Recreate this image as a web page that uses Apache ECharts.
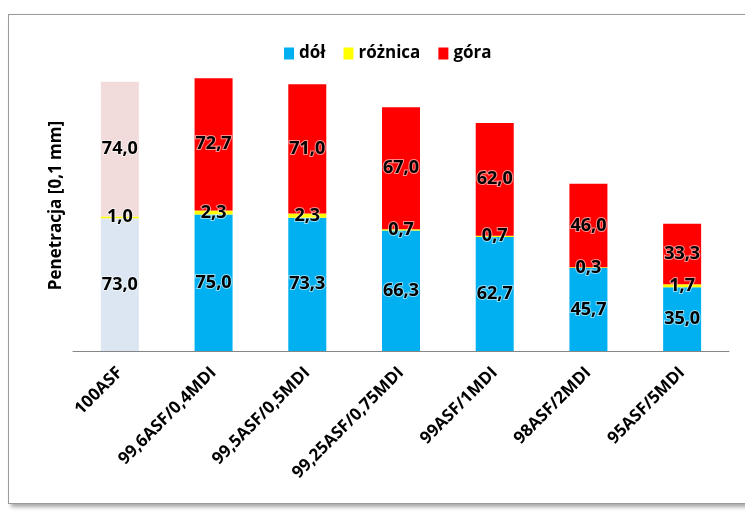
<!DOCTYPE html>
<html><head><meta charset="utf-8">
<script src="https://cdn.jsdelivr.net/npm/echarts@6/dist/echarts.min.js"></script>
<style>
html,body{margin:0;padding:0;background:#fff;}
#frame{position:absolute;left:8px;top:14px;width:760px;height:488px;border:1px solid #9a9a9a;box-shadow:3px 3px 4px rgba(0,0,0,0.35);background:#fff;}
#c{position:absolute;left:0;top:0;width:745px;height:512px;}
</style></head>
<body>
<div id="frame"></div>
<div id="c"></div>
<script>
const categories = ['100ASF','99,6ASF/0,4MDI','99,5ASF/0,5MDI','99,25ASF/0,75MDI','99ASF/1MDI','98ASF/2MDI','95ASF/5MDI'];
const dol = [73.0, 75.0, 73.3, 66.3, 62.7, 45.7, 35.0];
const roznica = [1.0, 2.3, 2.3, 0.7, 0.7, 0.3, 1.7];
const gora = [74.0, 72.7, 71.0, 67.0, 62.0, 46.0, 33.3];
const yAxisName = 'Penetracja [0,1 mm]';

const colors = {dol:'#00B0F0', roznica:'#FFFF00', gora:'#FF0000'};
const pale = {dol:'#DCE6F2', roznica:'#FFFF00', gora:'#F2DCDB'};
const FF = 'Open Sans, sans-serif';

const labelStyle = {
  show:true, position:'inside', fontFamily:FF, fontWeight:'bold', fontSize:18,
  color:'#000', textBorderColor:'rgba(255,255,255,0.55)', textBorderWidth:2,
  formatter: p => p.value.toFixed(1).replace('.', ',')
};
function mk(name, key, vals){
  return {
    name, type:'bar', stack:'s', barWidth:38,
    data: vals.map((v,i)=> i===0 ? {value:v, itemStyle:{color:pale[key]}} : v),
    itemStyle:{color:colors[key]},
    label: labelStyle
  };
}
const chart = echarts.init(document.getElementById('c'));
chart.setOption({
  animation:false,
  color:[colors.dol, colors.roznica, colors.gora],
  legend:{top:40, left:279, icon:'rect', itemWidth:10, itemHeight:12, itemGap:18,
    textStyle:{fontFamily:FF, fontWeight:'bold', fontSize:17, color:'#000'},
    data:['dół','różnica','góra']},
  grid:{left:73, right:16, top:60, bottom:161},
  xAxis:{type:'category', data:categories,
    axisLine:{lineStyle:{color:'#868686'}},
    axisTick:{length:6, lineStyle:{color:'#868686'}},
    axisLabel:{rotate:45, interval:0, margin:19, fontFamily:FF, fontWeight:'bold', fontSize:17, color:'#000'}},
  yAxis:{type:'value', min:0, max:160, show:true,
    name:yAxisName, nameLocation:'middle', nameGap:8, nameRotate:90,
    nameTextStyle:{fontFamily:FF, fontWeight:'bold', fontSize:17, color:'#000'},
    axisLine:{show:false}, axisTick:{show:false}, axisLabel:{show:false}, splitLine:{show:false}},
  series:[mk('dół','dol',dol), mk('różnica','roznica',roznica), mk('góra','gora',gora)]
});
</script>
</body></html>
